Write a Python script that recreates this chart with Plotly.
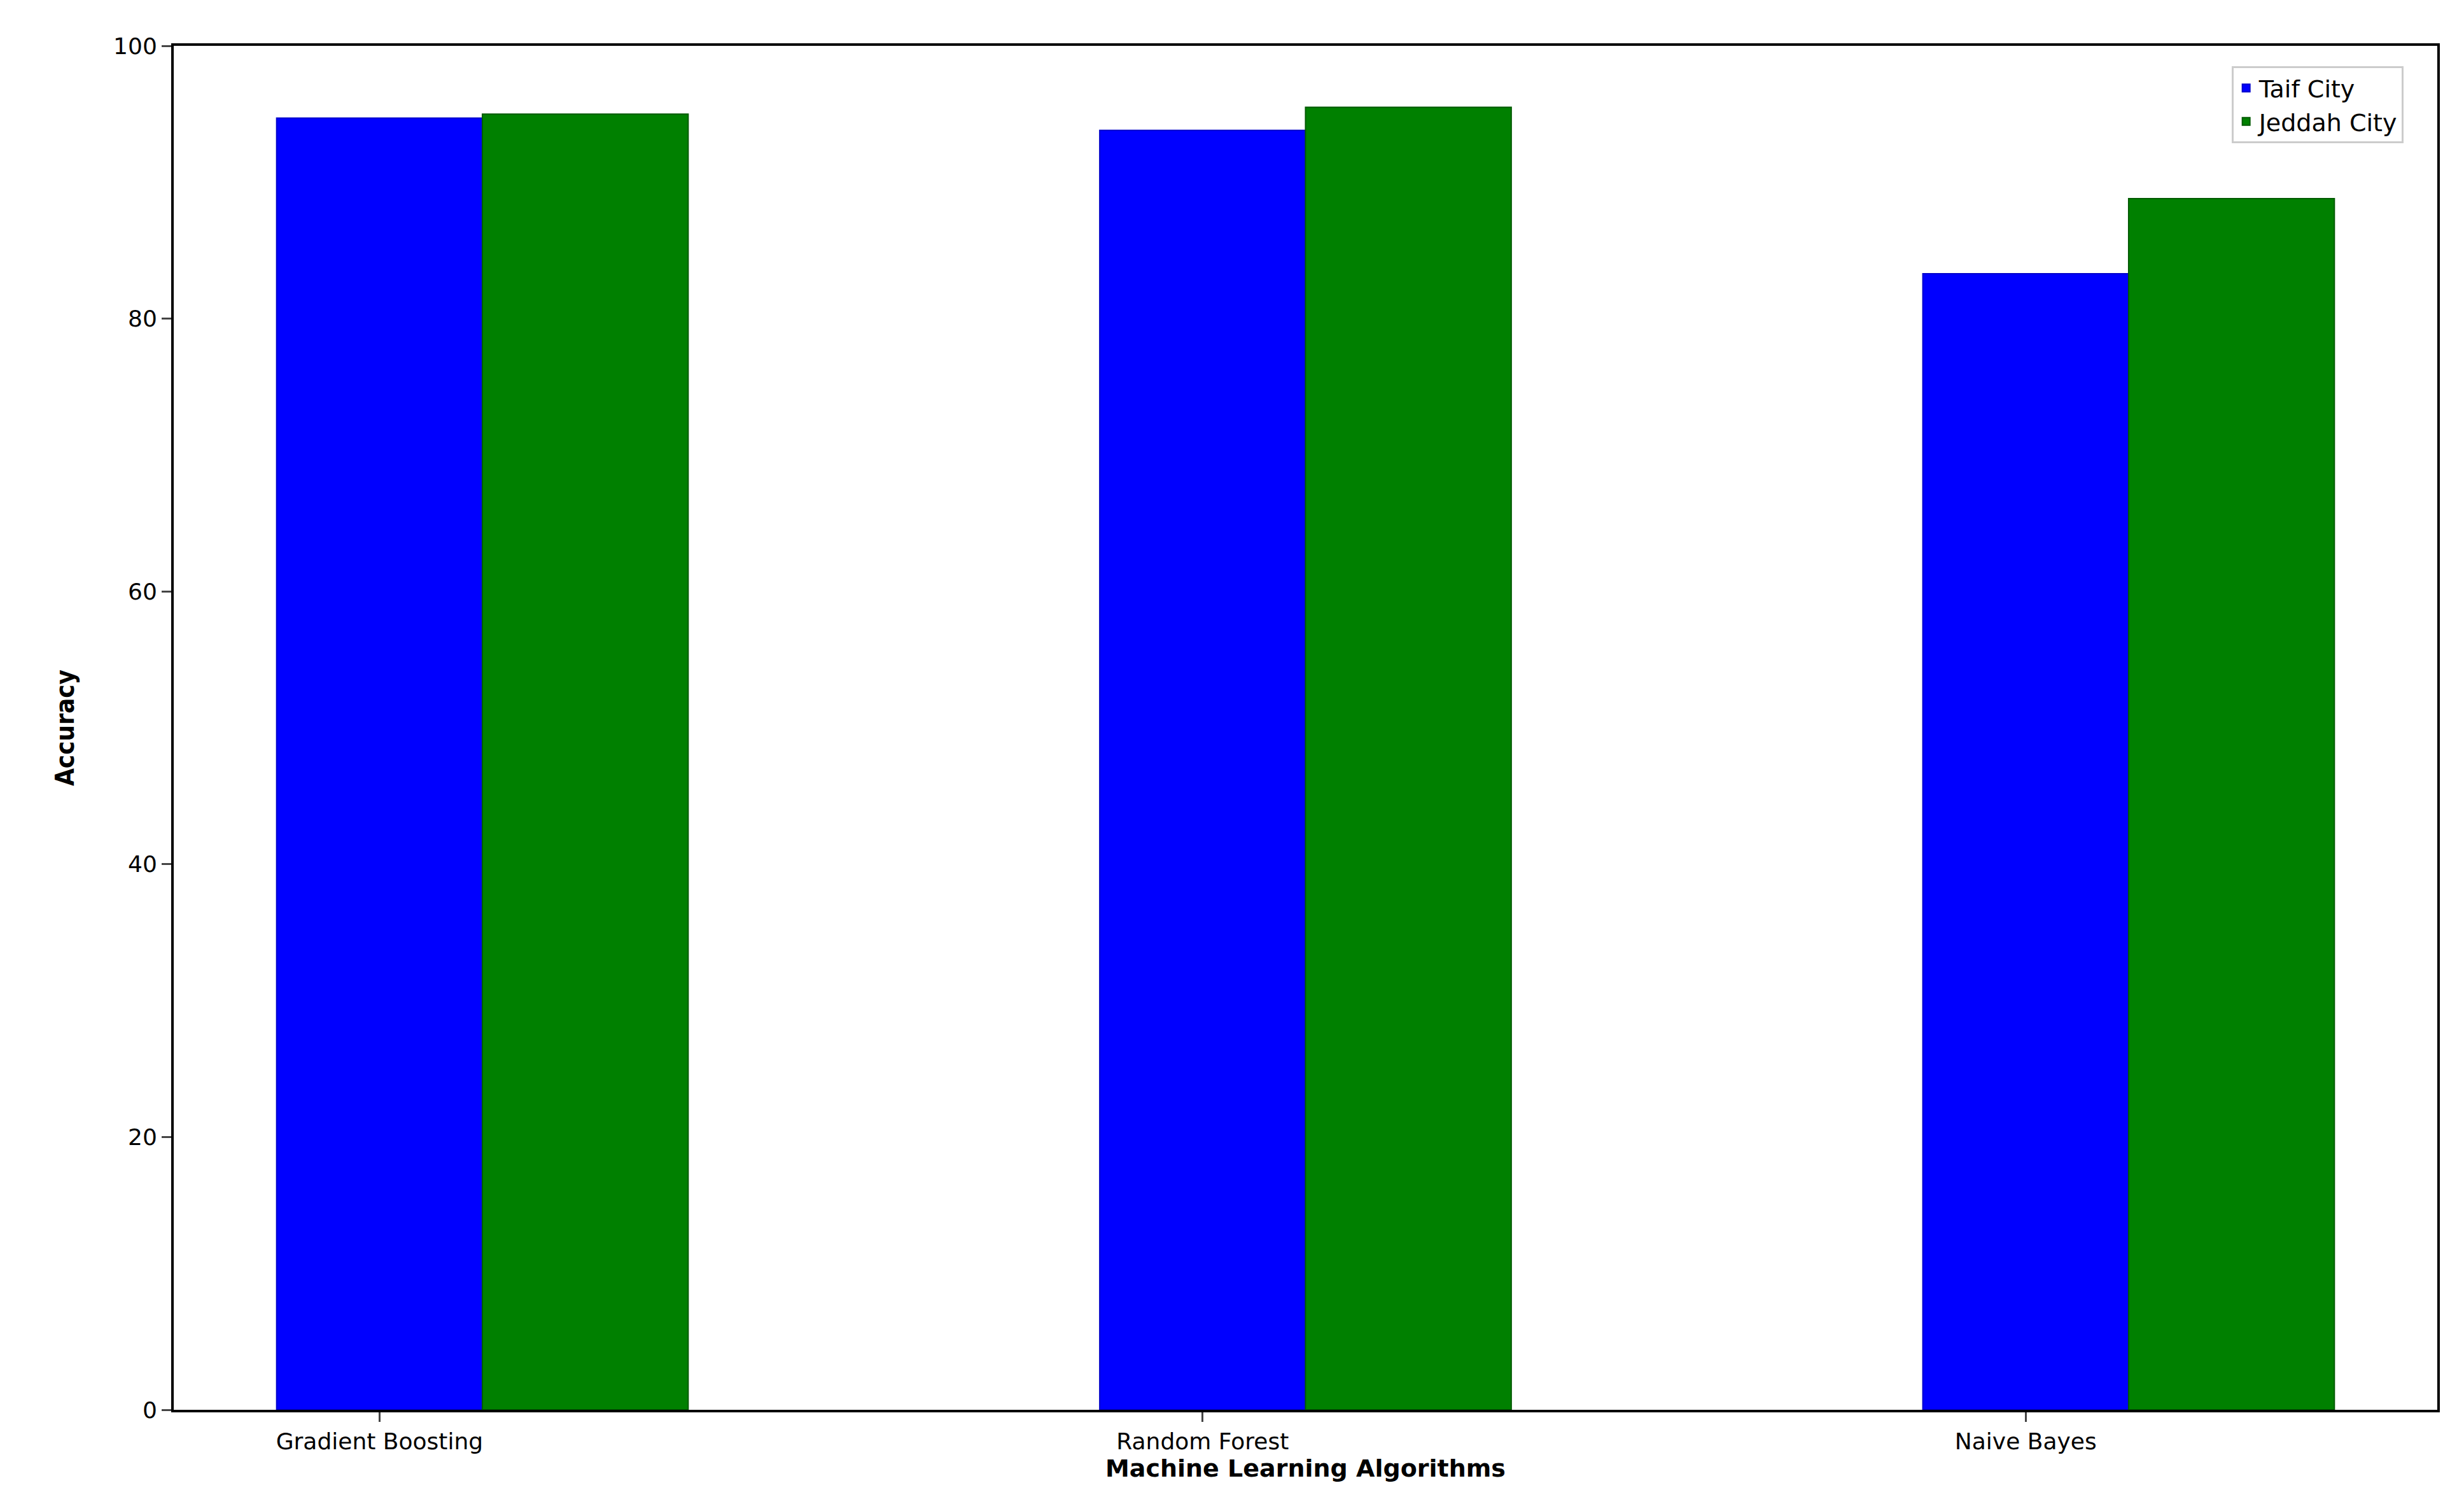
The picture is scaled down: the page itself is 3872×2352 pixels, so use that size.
import plotly.graph_objects as go

algorithms = ["Gradient Boosting", "Random Forest", "Naive Bayes"]
taif = [94.7, 93.8, 83.3]
jeddah = [95.0, 95.5, 88.8]
pos = [0, 1, 2]

fig = go.Figure()
fig.add_bar(x=[p for p in pos], y=taif, width=0.25, name="Taif City",
            marker=dict(color="#0000ff", line=dict(color="#0000cc", width=2)))
fig.add_bar(x=[p + 0.25 for p in pos], y=jeddah, width=0.25, name="Jeddah City",
            marker=dict(color="#008000", line=dict(color="#005a00", width=2)))

fig.update_layout(
    width=3872, height=2352, plot_bgcolor="white", paper_bgcolor="white",
    margin=dict(l=265, r=50, t=64, b=145),
    font=dict(family="DejaVu Sans", size=36, color="black"),
    barmode="overlay",
    legend=dict(x=0.985, y=0.985, xanchor="right", yanchor="top",
                bordercolor="#cccccc", borderwidth=3, bgcolor="white",
                font=dict(size=38)),
    xaxis=dict(range=[-0.25, 2.5], tickvals=pos, ticktext=algorithms,
               showgrid=False, zeroline=False, showline=True, linecolor="black",
               linewidth=4, mirror=True, ticks="outside", ticklen=15, tickwidth=3,
               title=dict(text="<b>Machine Learning Algorithms</b>", standoff=5,
                          font=dict(size=38))),
    yaxis=dict(range=[0, 100], dtick=20, showgrid=False, zeroline=False,
               showline=True, linecolor="black", linewidth=4, mirror=True,
               ticks="outside", ticklen=15, tickwidth=3,
               title=dict(text="<b>Accuracy</b>", standoff=50,
                          font=dict(size=40, family="Liberation Sans Narrow, DejaVu Sans Condensed"))),
)
fig.write_html("out.html")
